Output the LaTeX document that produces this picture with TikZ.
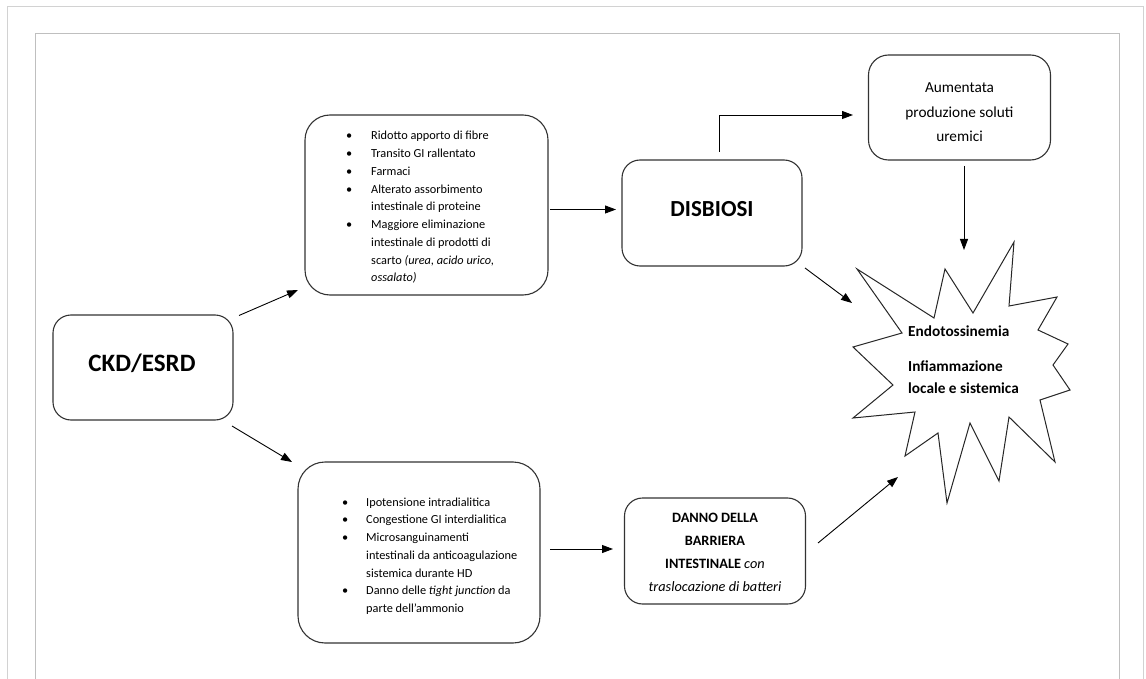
\documentclass[tikz,border=0pt]{standalone}
\usepackage{fontspec}
\setmainfont{Carlito}
\usetikzlibrary{arrows.meta}
\newcommand\bu{\makebox[25pt][l]{\textbullet}}
\newcommand\ind{\hspace*{25pt}}
\newcommand\bub{\makebox[24pt][l]{\textbullet}}
\newcommand\indb{\hspace*{24pt}}
\begin{document}
\begin{tikzpicture}[x=1pt,y=-1pt,
  box/.style={draw=black!80, line width=1.1pt, rounded corners=18pt, inner sep=0pt},
  txt/.style={inner sep=0pt, align=center},
  lst/.style={inner sep=0pt, anchor=base west, font=\fontsize{12.3}{17.75}\selectfont},
  arr/.style={draw=black, line width=0.9pt, -{Triangle[length=11pt,width=8pt]}},
  frameA/.style={draw=gray!35, line width=1pt},
  frameB/.style={draw=gray!50, line width=1pt}]
\useasboundingbox (0,0) rectangle (1146,679);
\fill[white] (0,0) rectangle (1146,679);
% frames
\draw[frameA] (7,679) -- (7,7) -- (1143.5,7) -- (1143.5,679);
\draw[frameB] (35,679) -- (35,34) -- (1119.5,34) -- (1119.5,679);

% boxes
\node[box, minimum width=180pt, minimum height=105pt] (ckd) at (143,367.5) {};
\node[txt, anchor=base, font=\fontsize{25}{30}\selectfont\bfseries] (ckdT) at (142,371.5) {CKD/ESRD};

\node[box, rounded corners=25pt, minimum width=243pt, minimum height=180pt] (top) at (426.5,205) {};
\node[lst] (topT) at (346,140)
{\begin{tabular}[t]{@{}l@{}}
\bu Ridotto apporto di fibre\\
\bu Transito GI rallentato\\
\bu Farmaci\\
\bu Alterato assorbimento\\
\ind intestinale di proteine\\
\bu Maggiore eliminazione\\
\ind intestinale di prodotti di\\
\ind scarto \textit{(urea, acido urico,}\\
\ind \textit{ossalato)}
\end{tabular}};

\node[box, rounded corners=27pt, minimum width=242pt, minimum height=181pt] (bot) at (419,552.5) {};
\node[lst] (botT) at (342,506)
{\begin{tabular}[t]{@{}l@{}}
\bub Ipotensione intradialitica\\
\bub Congestione GI interdialitica\\
\bub Microsanguinamenti\\
\indb intestinali da anticoagulazione\\
\indb sistemica durante HD\\
\bub Danno delle \textit{tight junction} da\\
\indb parte dell'ammonio
\end{tabular}};

\node[box, minimum width=180pt, minimum height=106pt] (dis) at (712,213) {};
\node[txt, anchor=base, font=\fontsize{23}{27}\selectfont\bfseries] (disT) at (712,216.7) {DISBIOSI};

\node[box, minimum width=181pt, minimum height=106pt] (dan) at (715,551) {};
\node[txt, font=\fontsize{14.3}{23}\selectfont] (danT) at (715,552)
{\textbf{DANNO DELLA}\\\textbf{BARRIERA}\\\textbf{INTESTINALE} \textit{con}\\\textit{traslocazione di batteri}};

\node[box, rounded corners=20pt, minimum width=182pt, minimum height=105pt] (aum) at (959.5,107.5) {};
\node[txt, font=\fontsize{15.3}{24.5}\selectfont] (aumT) at (959.5,112.5)
{Aumentata\\produzione soluti\\uremici};

% star
\draw[draw=black!85, line width=1pt, fill=white]
 (857,269) -- (934,318) -- (945,269) -- (973,313) -- (1014,242) -- (1009,306)
 -- (1057,297) -- (1038,330) -- (1068,344) -- (1053,365) -- (1070,390) -- (1040,400)
 -- (1055,462) -- (1009,417) -- (999,481) -- (970,423) -- (947,503) -- (938,433)
 -- (905,456) -- (915,412) -- (853,418) -- (893,385) -- (853,347) -- (902,333) -- cycle;
\node[anchor=base west, inner sep=0pt, font=\fontsize{15.3}{22}\selectfont\bfseries] (star) at (908,336.5)
{\begin{tabular}[t]{@{}l@{}}Endotossinemia\\[13pt]Infiammazione\\locale e sistemica\end{tabular}};

% connector endpoints
\coordinate (c1a) at (239,315.5); \coordinate (c1b) at (298,290);
\coordinate (c2a) at (232,426);   \coordinate (c2b) at (292,462);
\coordinate (c3a) at (550,209.5); \coordinate (c3b) at (616,209.5);
\coordinate (c4a) at (550,549);   \coordinate (c4b) at (613,549);
\coordinate (c5a) at (719,152);   \coordinate (c5b) at (853,115);
\coordinate (c6a) at (964,166);   \coordinate (c6b) at (964,250);
\coordinate (c7a) at (805,268);   \coordinate (c7b) at (852,303);
\coordinate (c8a) at (818,543);   \coordinate (c8b) at (898,477);

\draw[arr] (c1a) -- (c1b);
\draw[arr] (c2a) -- (c2b);
\draw[arr] (c3a) -- (c3b);
\draw[arr] (c4a) -- (c4b);
\draw[arr] (c5a) |- (c5b);
\draw[arr] (c6a) -- (c6b);
\draw[arr] (c7a) -- (c7b);
\draw[arr] (c8a) -- (c8b);
\end{tikzpicture}
\end{document}
